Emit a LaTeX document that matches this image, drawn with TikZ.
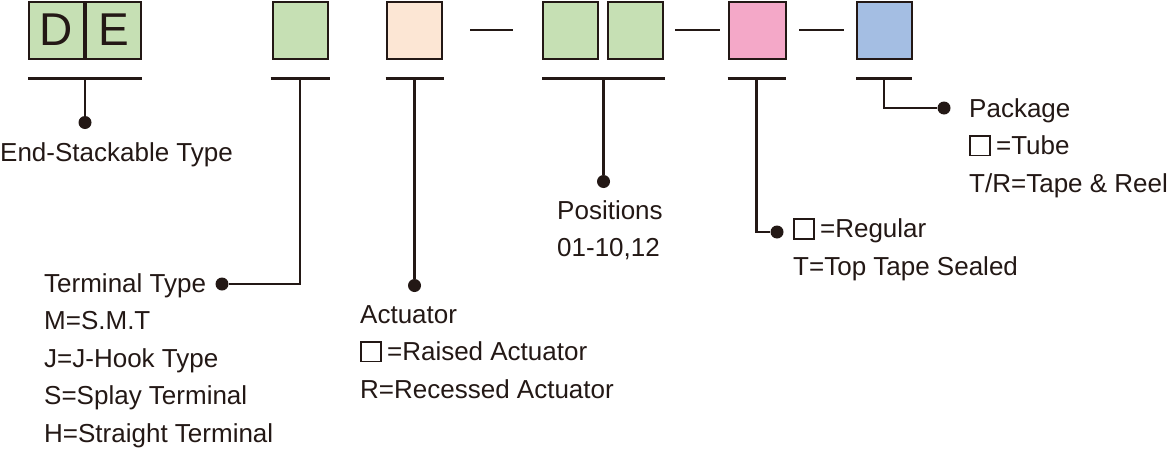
\documentclass[tikz,border=0pt]{standalone}
\usepackage{fontspec}
\setmainfont{Liberation Sans}
\usepackage{xcolor}
\usetikzlibrary{positioning}
\definecolor{ink}{HTML}{231815}
\definecolor{leaf}{HTML}{C6E0B4}
\definecolor{peach}{HTML}{FCE6D4}
\definecolor{rose}{HTML}{F4A8C8}
\definecolor{sky}{HTML}{A4BEE3}
\tikzset{
  cell/.style={draw=ink, line width=2pt, minimum width=55pt, minimum height=57pt, inner sep=0pt,
    text=ink, font=\fontsize{46}{46}\selectfont},
  bar/.style={draw=ink, line width=2.1pt},
  lead/.style={draw=ink, line width=2.1pt},
  pin/.style={circle, fill=ink, inner sep=0pt, minimum size=13pt},
  txt/.style={text=ink, font=\fontsize{26}{37.5}\selectfont, align=left, inner sep=0pt, anchor=north west}
}
\newcommand\blankbox{{\setlength{\fboxsep}{0pt}\setlength{\fboxrule}{1.7pt}\color{ink}\fbox{\rule{0pt}{18pt}\hspace{18.5pt}}}\hspace{5pt}}

\begin{document}
\begin{tikzpicture}[x=1pt, y=-1pt]
  \useasboundingbox (0,0) rectangle (1167,450);
  % Top row: code cells
  \node[cell, fill=leaf] (d) at (56.5,30) {D};
  \node[cell, fill=leaf, right=0pt of d] (e) {E};
  \node[cell, fill=leaf] (term) at (300,30) {};
  \node[cell, fill=peach] (act) at (414,30) {};
  \node[cell, fill=leaf] (pos1) at (570.5,30) {};
  \node[cell, fill=leaf, right=8pt of pos1] (pos2) {};
  \node[cell, fill=rose, minimum width=57pt] (seal) at (757,30) {};
  \node[cell, fill=sky] (pkg) at (884.5,30) {};

  % Dashes between groups
  \draw[bar] ([xshift=27.5pt]act.east) -- ([xshift=70.5pt]act.east);
  \draw[bar] ([xshift=11pt]pos2.east) -- ([xshift=56pt]pos2.east);
  \draw[bar] ([xshift=12.5pt]seal.east) -- ([xshift=57.5pt]seal.east);

  % Underlines
  \draw[bar] ([yshift=-19pt]d.south west) -- coordinate[midway] (deMid) ([yshift=-19pt]e.south east);
  \draw[bar] ([xshift=-1pt,yshift=-19pt]term.south west) -- coordinate[midway] (tmMid) ([xshift=1pt,yshift=-19pt]term.south east);
  \draw[bar] ([yshift=-19pt]act.south west) -- coordinate[midway] (acMid) ([xshift=1pt,yshift=-19pt]act.south east);
  \draw[bar] ([yshift=-19pt]pos1.south west) -- coordinate[midway] (psMid) ([xshift=1pt,yshift=-19pt]pos2.south east);
  \draw[bar] ([yshift=-19pt]seal.south west) -- coordinate[midway] (slMid) ([xshift=-1pt,yshift=-19pt]seal.south east);
  \draw[bar] ([yshift=-19pt]pkg.south west) -- coordinate[midway] (pkMid) ([xshift=-1pt,yshift=-19pt]pkg.south east);

  % Pins
  \node[pin] (pinDE) at ([yshift=-44pt]deMid) {};
  \node[pin] (pinTm) at (222,284) {};
  \node[pin] (pinAc) at ([yshift=-207pt]acMid) {};
  \node[pin] (pinPs) at ([yshift=-103pt]psMid) {};
  \node[pin] (pinSl) at (777,232) {};
  \node[pin] (pinPk) at (944,108) {};

  % Leaders
  \draw[lead] (deMid) -- (pinDE);
  \draw[lead] (tmMid) |- (pinTm);
  \draw[lead] (acMid) -- (pinAc);
  \draw[lead] (psMid) -- (pinPs);
  \draw[lead] (slMid) |- (pinSl);
  \draw[lead] (pkMid) |- (pinPk);

  % Legends
  \node[txt] (tEnd) at (0,142) {End-Stackable Type};
  \node[txt] (tTerm) at (44,273) {Terminal Type\\M=S.M.T\\J=J-Hook Type\\S=Splay Terminal\\H=Straight Terminal};
  \node[txt] (tAct) at (360,305) {Actuator\\\blankbox=Raised Actuator\\R=Recessed Actuator};
  \node[txt] (tPos) at (557,200) {Positions\\01-10,12};
  \node[txt] (tSeal) at (793,218) {\blankbox=Regular\\T=Top Tape Sealed};
  \node[txt] (tPkg) at (969,98) {Package\\\blankbox=Tube\\T/R=Tape \& Reel};
\end{tikzpicture}
\end{document}
